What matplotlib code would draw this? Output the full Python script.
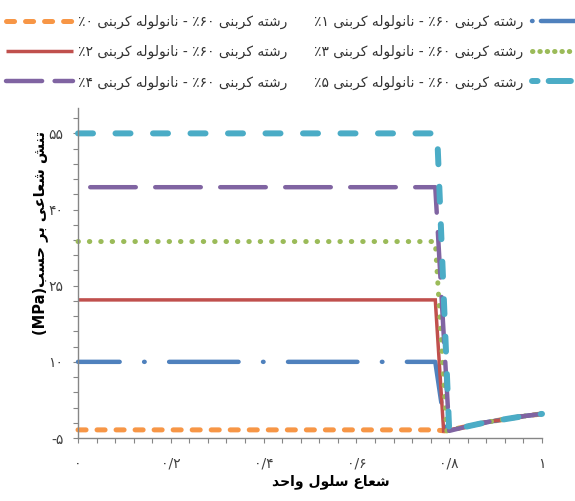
import matplotlib
matplotlib.use('Agg')
import matplotlib.pyplot as plt
from matplotlib.lines import Line2D
from matplotlib.ticker import FixedLocator, MultipleLocator

plt.rcParams['font.family'] = ['DejaVu Sans', 'Noto Sans']
plt.rcParams['lines.scale_dashes'] = False

# --- data -------------------------------------------------------------
pct_digits = ['۰', '۱', '۲', '۳', '۴', '۵']          # nanotube content, %
plateau = [-3.4, 10.0, 22.2, 33.7, 44.4, 55.0]        # shear stress before drop (MPa)
drop_start = [0.770, 0.770, 0.770, 0.770, 0.770, 0.774]
drop_end = [0.790, 0.792, 0.788, 0.795, 0.800, 0.800]
tail_x = [0.80, 0.84, 0.88, 0.92, 0.96, 1.00]
tail_y = [-3.6, -2.7, -1.9, -1.3, -0.7, -0.25]

x_ticks = [0, 0.2, 0.4, 0.6, 0.8, 1.0]
x_ticklabels = ['۰', '۰/۲', '۰/۴', '۰/۶', '۰/۸', '۱']
y_ticks = [-5, 10, 25, 40, 55]
y_ticklabels = ['-۵', '۱۰', '۲۵', '۴۰', '۵۵']

colors = ['#F79646', '#4F81BD', '#C0504D', '#9BBB59', '#8064A2', '#4BACC6']

# --- minimal Persian shaping (matplotlib has no bidi / joining) -------
FORMS = {
    'ا': ('\uFE8D', '\uFE8E', None, None),
    'ب': ('\uFE8F', '\uFE90', '\uFE91', '\uFE92'),
    'ت': ('\uFE95', '\uFE96', '\uFE97', '\uFE98'),
    'ح': ('\uFEA1', '\uFEA2', '\uFEA3', '\uFEA4'),
    'د': ('\uFEA9', '\uFEAA', None, None),
    'ر': ('\uFEAD', '\uFEAE', None, None),
    'س': ('\uFEB1', '\uFEB2', '\uFEB3', '\uFEB4'),
    'ش': ('\uFEB5', '\uFEB6', '\uFEB7', '\uFEB8'),
    'ع': ('\uFEC9', '\uFECA', '\uFECB', '\uFECC'),
    'ل': ('\uFEDD', '\uFEDE', '\uFEDF', '\uFEE0'),
    'ن': ('\uFEE5', '\uFEE6', '\uFEE7', '\uFEE8'),
    'ه': ('\uFEE9', '\uFEEA', '\uFEEB', '\uFEEC'),
    'و': ('\uFEED', '\uFEEE', None, None),
    'ی': ('\uFBFC', '\uFBFD', '\uFBFE', '\uFBFF'),
    'ک': ('\uFB8E', '\uFB8F', '\uFB90', '\uFB91'),
}


def shape(word):
    out = []
    for i, ch in enumerate(word):
        if ch not in FORMS:
            out.append(ch)
            continue
        iso, fin, ini, med = FORMS[ch]
        prev = word[i - 1] if i > 0 else None
        nxt = word[i + 1] if i < len(word) - 1 else None
        jp = prev in FORMS and FORMS[prev][2] is not None
        jn = nxt in FORMS and ini is not None
        if jp and jn:
            out.append(med)
        elif jp:
            out.append(fin)
        elif jn:
            out.append(ini)
        else:
            out.append(iso)
    return ''.join(reversed(out))


def rtl(*tokens):
    # tokens in reading order; Persian words get shaped, others kept as is
    vis = [shape(t) if any(c in FORMS for c in t) else t for t in tokens]
    return ' '.join(reversed(vis))


labels = [rtl('رشته', 'کربنی', '٪۶۰', '-', 'نانولوله', 'کربنی', '٪' + d)
          for d in pct_digits]

# --- line styles (dash lengths in points) -------------------------------
styles = [
    dict(lw=3.6, ls=(0, (5.8, 7.9)), dash_capstyle='round'),
    dict(lw=3.2, ls=(20, (50, 17.6, 0.4, 17.6)), dash_capstyle='round'),
    dict(lw=2.5, ls='-', solid_capstyle='butt'),
    dict(lw=3.6, ls=(0, (0.3, 7.9)), dash_capstyle='round'),
    dict(lw=3.2, ls=(38, (32.8, 14)), dash_capstyle='round'),
    dict(lw=4.3, ls=(0, (10.8, 16.2)), dash_capstyle='round'),
]

fig = plt.figure(figsize=(5.75, 5.01), dpi=100)
ax = fig.add_axes([78 / 575, 1 - 438 / 501, 464 / 575, 330 / 501])

for i in range(6):
    xs = [0, drop_start[i], drop_end[i]] + tail_x[1:]
    ys = [plateau[i], plateau[i], tail_y[0]] + tail_y[1:]
    ax.plot(xs, ys, color=colors[i], solid_joinstyle='miter', clip_on=False, **styles[i])

ax.set_xlim(0, 1)
ax.set_ylim(-5, 60)
ax.xaxis.set_major_locator(FixedLocator(x_ticks))
ax.xaxis.set_minor_locator(MultipleLocator(0.04))
ax.set_xticklabels(x_ticklabels)
ax.yaxis.set_major_locator(FixedLocator(y_ticks))
ax.yaxis.set_minor_locator(FixedLocator([-5 + 3 * k for k in range(22)]))
ax.set_yticklabels(y_ticklabels)

for s in ['top', 'right']:
    ax.spines[s].set_visible(False)
for s in ['left', 'bottom']:
    ax.spines[s].set_color('#868686')
    ax.spines[s].set_linewidth(1.0)

ax.tick_params(which='both', direction='out', length=3.6, width=0.8, color='#868686')
ax.tick_params(axis='x', which='major', pad=10, labelsize=10, labelcolor='#404040')
ax.tick_params(axis='y', which='major', pad=7, labelsize=10, labelcolor='#404040')

ax.set_xlabel(rtl('شعاع', 'سلول', 'واحد'), fontsize=10, fontweight='bold')
ax.xaxis.set_label_coords(0.545, -0.11)
ylab = '(MPa)' + shape('حسب') + ' ' + shape('بر') + ' ' + shape('شعاعی') + ' ' + shape('تنش')
ax.set_ylabel(ylab, fontsize=10.5, fontweight='bold')
ax.yaxis.set_label_coords(-0.065, 0.62)


# legend: left column handle-first, right column text-first
def proxy(i, ls=None):
    st = dict(styles[i])
    if ls is not None:
        st['ls'] = ls
    return Line2D([], [], color=colors[i], **st)


left = [0, 2, 4]
right = [1, 3, 5]
leg_top = 1 - 15 / 501
fig.legend([proxy(i, (0, (26, 9))) if i == 4 else proxy(i) for i in left],
           [labels[i] for i in left],
           loc='upper left', bbox_to_anchor=(6 / 575, leg_top),
           frameon=False, fontsize=10, handlelength=4.8, handletextpad=0.4,
           labelspacing=1.15, borderpad=0, borderaxespad=0, labelcolor='#333333')
right_handles = [proxy(1, (0, (0.4, 6, 30, 10))), proxy(3, (0, (0.3, 5))),
                 proxy(5, (0, (4, 8, 16, 10)))]
fig.legend(right_handles, [labels[i] for i in right],
           loc='upper right', bbox_to_anchor=(575 / 575, leg_top),
           frameon=False, fontsize=10, handlelength=3.1, handletextpad=0.6,
           labelspacing=1.15, borderpad=0, borderaxespad=0, markerfirst=False,
           labelcolor='#333333')

fig.savefig('out.png', dpi=100)
